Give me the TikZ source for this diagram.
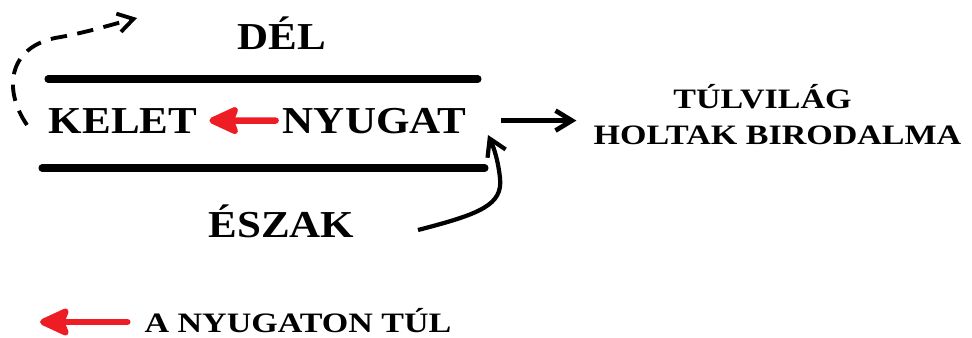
\documentclass[tikz,border=0pt]{standalone}
\usepackage{fontspec}
\setmainfont{Liberation Serif}
\usepackage{tikz}
\usetikzlibrary{arrows.meta,calc}
\definecolor{mapRed}{HTML}{EE1C25}
\newcommand{\bigtext}[1]{\scalebox{1.13}[1]{#1}}
\newcommand{\smalltext}[1]{\scalebox{1.21}[1]{#1}}
\tikzset{
  bigword/.style={font=\bfseries\fontsize{32.5}{36}\selectfont, inner sep=0pt, anchor=base},
  smallword/.style={font=\bfseries\fontsize{24}{28}\selectfont, inner sep=0pt, anchor=base},
  wall/.style={line width=6pt, line cap=round},
  redarrow/.style={mapRed, line width=5.5pt, line cap=round,
    -{Stealth[length=30pt,width=27pt,inset=5pt,round]}},
  blackarrow/.style={line width=4pt, -{Straight Barb[length=14pt,width=17pt]}},
  dasharrow/.style={line width=3.3pt, dash pattern=on 14pt off 9pt,
    -{Straight Barb[length=13pt,width=16pt]}}
}

\begin{document}
\begin{tikzpicture}[x=0.03cm,y=-0.03cm]
  \useasboundingbox (0,0) rectangle (972,338);

  % the road between south and north
  \node[bigword] (del) at (281.5,50) {\bigtext{DÉL}};
  \draw[wall] (48,79) -- (478,79);
  \node[bigword] (kelet) at (123,133) {\bigtext{KELET}};
  \node[bigword] (nyugat) at (374.5,133) {\bigtext{NYUGAT}};
  \draw[wall] (42,168) -- (485,168);
  \node[bigword] (eszak) at (281.5,237) {\bigtext{ÉSZAK}};

  \node[smallword] (tulvilag) at (762.5,109) {\smalltext{TÚLVILÁG}};
  \node[smallword] (holtak) at (777.5,145) {\smalltext{HOLTAK BIRODALMA}};

  \draw[redarrow] ($(nyugat.west)+(-7,0)$) -- ($(kelet.east)+(12,0)$);
  \draw[blackarrow] ($(nyugat.east)+(35,0)$) -- ($(nyugat.east -| holtak.west)+(-17,0)$);

  % from the north round to the west
  \coordinate (eszaktail) at (418,230);
  \coordinate (worldgate) at (488,135);
  \draw[blackarrow, line width=3.6pt] (eszaktail) .. controls (480,214) and (503,205) .. (500,178)
    .. controls (498,160) and (494,148) .. (worldgate);

  % from the east back over the top
  \coordinate (dashtail) at (27,125);
  \coordinate (dashtip) at (137,18);
  \draw[dasharrow] (dashtail) .. controls (3,90) and (8,48) .. (55,38)
    .. controls (85,33) and (110,25) .. (dashtip);

  % legend
  \node[smallword] (legend) at (298,332) {\smalltext{A NYUGATON TÚL}};
  \coordinate (legtip) at (40,322);
  \draw[redarrow] ($(legend.west |- legtip)+(-17,0)$) -- (legtip);
\end{tikzpicture}
\end{document}
